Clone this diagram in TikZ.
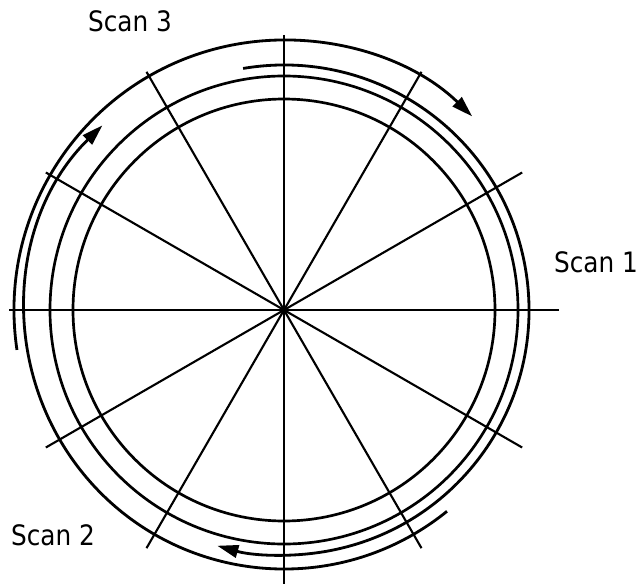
\documentclass[tikz,border=0pt]{standalone}
\usepackage{fontspec}
\setmainfont{DejaVu Sans}[FakeStretch=0.88]
\usetikzlibrary{arrows.meta}

\begin{document}
\begin{tikzpicture}[
    ring/.style={line width=1.9pt},
    spoke/.style={line width=1.5pt},
    scanarc/.style={line width=2pt, -{Triangle[length=15pt, width=9pt]}},
    lbl/.style={font=\fontsize{20}{24}\selectfont, inner sep=0pt},
]
% Frame
\useasboundingbox (-7.1,-6.825) rectangle (8.875,7.75);

% Spokes
\draw[spoke] (0:6.875) -- (180:6.875);
\draw[spoke] (30:6.875) -- (210:6.875);
\draw[spoke] (60:6.875) -- (240:6.875);
\draw[spoke] (90:6.875) -- (270:6.875);
\draw[spoke] (120:6.875) -- (300:6.875);
\draw[spoke] (150:6.875) -- (330:6.875);

% Rings
\draw[ring] (0,0) circle (5.275);
\draw[ring] (0,0) circle (5.85);

% Scan arcs
\draw[scanarc] (99.6:6.125) arc[start angle=99.6, end angle=-105.8, radius=6.125];
\draw[scanarc] (-51:6.475) arc[start angle=-51, end angle=-225.5, radius=6.475];
\draw[scanarc] (188.5:6.75) arc[start angle=188.5, end angle=45.8, radius=6.75];

% Labels
\node[lbl] (scan1) at (7.8,1.2) {Scan 1};
\node[lbl] (scan2) at (-5.775,-5.625) {Scan 2};
\node[lbl] (scan3) at (-3.85,7.225) {Scan 3};
\end{tikzpicture}
\end{document}
